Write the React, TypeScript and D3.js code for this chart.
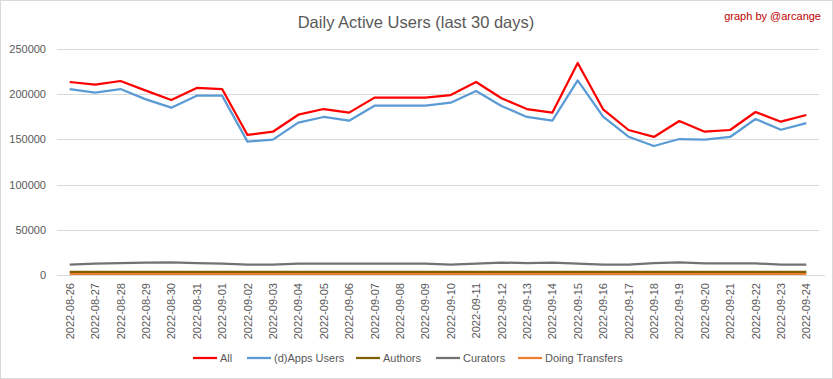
import React from "react";
import * as d3 from "d3";

const dates = [
  "2022-08-26","2022-08-27","2022-08-28","2022-08-29","2022-08-30","2022-08-31","2022-09-01",
  "2022-09-02","2022-09-03","2022-09-04","2022-09-05","2022-09-06","2022-09-07","2022-09-08",
  "2022-09-09","2022-09-10","2022-09-11","2022-09-12","2022-09-13","2022-09-14","2022-09-15",
  "2022-09-16","2022-09-17","2022-09-18","2022-09-19","2022-09-20","2022-09-21","2022-09-22",
  "2022-09-23","2022-09-24",
];

const allUsers = [
  213500, 210500, 214600, 203900, 193600, 206900, 205700, 154900, 158500, 177300,
  183600, 179600, 196200, 196200, 196200, 199100, 213500, 195500, 183600, 179600,
  234500, 183300, 160400, 152700, 170300, 158500, 160400, 180300, 169600, 177000,
];
const appsUsers = [
  205700, 201700, 205700, 194300, 185100, 198400, 198400, 147500, 149700, 168500,
  174800, 170700, 187300, 187300, 187300, 190600, 203500, 187000, 174800, 170700,
  215300, 175100, 153000, 142700, 150400, 149700, 152700, 172600, 160700, 168100,
];
const authors = [
  3500, 3500, 3500, 3500, 3500, 3500, 3500, 3500, 3500, 3500,
  3500, 3500, 3500, 3500, 3500, 3500, 3500, 3500, 3500, 3500,
  3500, 3500, 3500, 3500, 3500, 3500, 3500, 3500, 3500, 3500,
];
const curators = [
  11400, 12500, 13000, 13600, 14000, 13000, 12500, 11400, 11400, 12500,
  12500, 12500, 12500, 12500, 12500, 11400, 12500, 13800, 13000, 13600,
  12500, 11400, 11400, 13000, 14000, 12900, 12900, 12900, 11400, 11400,
];
const transfers = [
  1300, 1300, 1300, 1300, 1300, 1300, 1300, 1300, 1300, 1300,
  1300, 1300, 1300, 1300, 1300, 1300, 1300, 1300, 1300, 1300,
  1300, 1300, 1300, 1300, 1300, 1300, 1300, 1300, 1300, 1300,
];

const yTicks = [0, 50000, 100000, 150000, 200000, 250000];

const seriesNames = ["All", "(d)Apps Users", "Authors", "Curators", "Doing Transfers"];
const seriesColors = ["#FF0000", "#5B9BD5", "#7F6000", "#767171", "#ED7D31"];
const seriesData = [allUsers, appsUsers, authors, curators, transfers];

const W = 833;
const H = 379;
const FONT = "'Liberation Sans', Arial, sans-serif";

export default function App() {
  const left = 57, right = 819, top = 49, bottom = 275;
  const x = d3.scaleBand<string>().domain(dates).range([left, right]);
  const y = d3.scaleLinear().domain([0, 250000]).range([bottom, top]);
  const line = d3
    .line<number>()
    .x((_, i) => (x(dates[i]) as number) + x.bandwidth() / 2)
    .y((d) => y(d));

  // draw order: lower ones first, so All on top
  const order = [4, 2, 3, 1, 0];
  const legendLineX = [193, 247, 356, 436, 518];

  return (
    <svg
      width={W}
      height={H}
      style={{ position: "absolute", left: 0, top: 0, background: "#fff" }}
    >
      <rect x={0.5} y={0.5} width={W - 1} height={H - 1} fill="#fff" stroke="#D9D9D9" />
      <text x={416} y={28} textAnchor="middle" fontFamily={FONT} fontSize={16.5} fill="#595959">
        Daily Active Users (last 30 days)
      </text>
      <text x={821} y={20} textAnchor="end" fontFamily={FONT} fontSize={11} fill="#C00000">
        graph by @arcange
      </text>
      {yTicks.map((t) => (
        <g key={t}>
          {t > 0 && (
            <line x1={left} x2={right} y1={Math.round(y(t)) + 0.5} y2={Math.round(y(t)) + 0.5} stroke="#D9D9D9" />
          )}
          <text
            x={46}
            y={y(t) + 4}
            textAnchor="end"
            fontFamily={FONT}
            fontSize={11}
            fill="#595959"
          >
            {t}
          </text>
        </g>
      ))}
      <line x1={left} x2={right + 6} y1={bottom + 0.5} y2={bottom + 0.5} stroke="#D9D9D9" />
      {dates.map((d) => {
        const cx = (x(d) as number) + x.bandwidth() / 2;
        return (
          <text
            key={d}
            transform={`translate(${cx + 4},283) rotate(-90)`}
            textAnchor="end"
            fontFamily={FONT}
            fontSize={11}
            fill="#595959"
          >
            {d}
          </text>
        );
      })}
      {order.map((k) => (
        <path
          key={k}
          d={line(seriesData[k]) || ""}
          fill="none"
          stroke={seriesColors[k]}
          strokeWidth={2.25}
          strokeLinejoin="round"
        />
      ))}
      {seriesNames.map((n, i) => (
        <g key={n}>
          <line
            x1={legendLineX[i]}
            x2={legendLineX[i] + 24}
            y1={358}
            y2={358}
            stroke={seriesColors[i]}
            strokeWidth={2.25}
          />
          <text x={legendLineX[i] + 27} y={362} fontFamily={FONT} fontSize={11} fill="#595959">
            {n}
          </text>
        </g>
      ))}
    </svg>
  );
}
